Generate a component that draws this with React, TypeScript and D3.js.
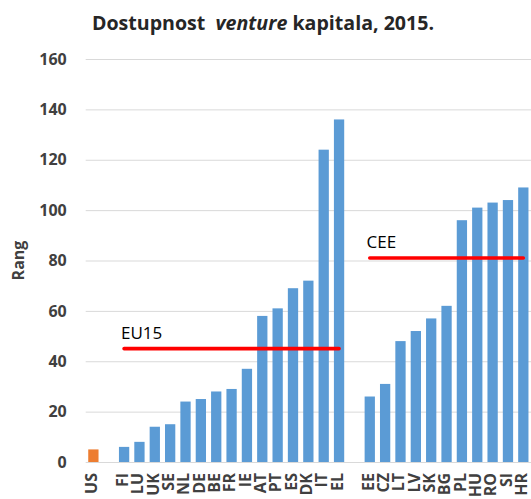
import React, { useEffect, useRef } from "react";
import * as d3 from "d3";

const usLabel = "US";
const usValue = 5;
const eu15Countries = ["FI", "LU", "UK", "SE", "NL", "DE", "BE", "FR", "IE", "AT", "PT", "ES", "DK", "IT", "EL"];
const eu15Values = [6, 8, 14, 15, 24, 25, 28, 29, 37, 58, 61, 69, 72, 124, 136];
const ceeCountries = ["EE", "CZ", "LT", "LV", "SK", "BG", "PL", "HU", "RO", "SI", "HR"];
const ceeValues = [26, 31, 48, 52, 57, 62, 96, 101, 103, 104, 109];
const eu15Average = 45;
const ceeAverage = 81;
const yTicks = [0, 20, 40, 60, 80, 100, 120, 140, 160];

const size = { width: 531, height: 499 };
const margin = { top: 59, right: 0, bottom: 37, left: 85.7 };
const font = "'Open Sans', sans-serif";

const draw = (node: SVGSVGElement) => {
  const width = size.width - margin.left - margin.right;
  const height = size.height - margin.top - margin.bottom;

  // gaps between the groups are empty slots on the band scale
  const domain = [usLabel, "_gap1", ...eu15Countries, "_gap2", ...ceeCountries];
  const bars = [
    { key: usLabel, value: usValue, color: "#ed7d31" },
    ...eu15Countries.map((c, i) => ({ key: c, value: eu15Values[i], color: "#5b9bd5" })),
    ...ceeCountries.map((c, i) => ({ key: c, value: ceeValues[i], color: "#5b9bd5" }))
  ];

  const xScale = d3.scaleBand().domain(domain).range([0, width]).paddingInner(0.33).paddingOuter(0.165);
  const yScale = d3.scaleLinear().domain([0, 160]).range([height, 0]);

  const svg = d3.select(node);
  svg.selectAll("*").remove();

  svg
    .append("text")
    .attr("x", 263)
    .attr("y", 30)
    .attr("text-anchor", "middle")
    .style("font-family", font)
    .style("font-size", "19.6px")
    .style("font-weight", "bold")
    .style("fill", "#262626")
    .style("white-space", "pre")
    .call(t => {
      t.append("tspan").text("Dostupnost  ");
      t.append("tspan").style("font-style", "italic").text("venture");
      t.append("tspan").text(" kapitala, 2015.");
    });

  const g = svg.append("g").attr("transform", `translate(${margin.left},${margin.top})`);

  const yAxis = g
    .append("g")
    .call(
      d3
        .axisLeft(yScale)
        .tickValues(yTicks)
        .tickSize(-width)
        .tickPadding(19)
    );
  yAxis.select(".domain").remove();
  yAxis.selectAll("line").attr("stroke", "#d9d9d9");
  yAxis
    .selectAll("text")
    .style("font-family", font)
    .style("font-size", "16px")
    .style("font-weight", "bold")
    .style("fill", "#404040");

  g.append("text")
    .attr("transform", `translate(${-62},${height / 2}) rotate(-90)`)
    .attr("text-anchor", "middle")
    .style("font-family", font)
    .style("font-size", "16px")
    .style("font-weight", "bold")
    .style("fill", "#404040")
    .text("Rang");

  g.selectAll(".bar")
    .data(bars)
    .enter()
    .append("rect")
    .attr("class", "bar")
    .attr("x", d => xScale(d.key) as number)
    .attr("width", xScale.bandwidth())
    .attr("y", d => yScale(d.value))
    .attr("height", d => height - yScale(d.value))
    .style("fill", d => d.color);

  const xAxis = g
    .append("g")
    .attr("transform", `translate(0,${height})`)
    .call(
      d3
        .axisBottom(xScale)
        .tickSize(0)
        .tickFormat(d => (d.startsWith("_") ? "" : d))
    );
  xAxis.select(".domain").attr("stroke", "#d9d9d9");
  xAxis
    .selectAll("text")
    .attr("transform", "rotate(-90)")
    .attr("x", -11)
    .attr("y", -2)
    .attr("dy", "0.36em")
    .style("text-anchor", "end")
    .style("font-family", font)
    .style("font-size", "16px")
    .style("font-weight", "bold")
    .style("fill", "#404040");

  const avgLines = [
    { label: "EU15", from: eu15Countries[0], to: eu15Countries[eu15Countries.length - 1], value: eu15Average },
    { label: "CEE", from: ceeCountries[0], to: ceeCountries[ceeCountries.length - 1], value: ceeAverage }
  ];
  const half = xScale.bandwidth() / 2;
  const line = d3
    .line<{ key: string; value: number }>()
    .x(d => (xScale(d.key) as number) + half)
    .y(d => yScale(d.value));

  avgLines.forEach(a => {
    g.append("path")
      .attr("d", line([{ key: a.from, value: a.value }, { key: a.to, value: a.value }]))
      .attr("stroke", "#ff0000")
      .attr("stroke-width", 3.6)
      .attr("stroke-linecap", "round")
      .attr("fill", "none");
    g.append("text")
      .attr("x", (xScale(a.from) as number) + 2)
      .attr("y", yScale(a.value) - 10)
      .style("font-family", font)
      .style("font-size", "17px")
      .style("fill", "#000")
      .text(a.label);
  });
};

const App = () => {
  const ref = useRef<SVGSVGElement>(null);
  useEffect(() => {
    if (ref.current) draw(ref.current);
  }, []);
  return (
    <div style={{ position: "fixed", left: 0, top: 0, background: "#fff" }}>
      <svg ref={ref} width={size.width} height={size.height} style={{ display: "block" }} />
    </div>
  );
};

export default App;
